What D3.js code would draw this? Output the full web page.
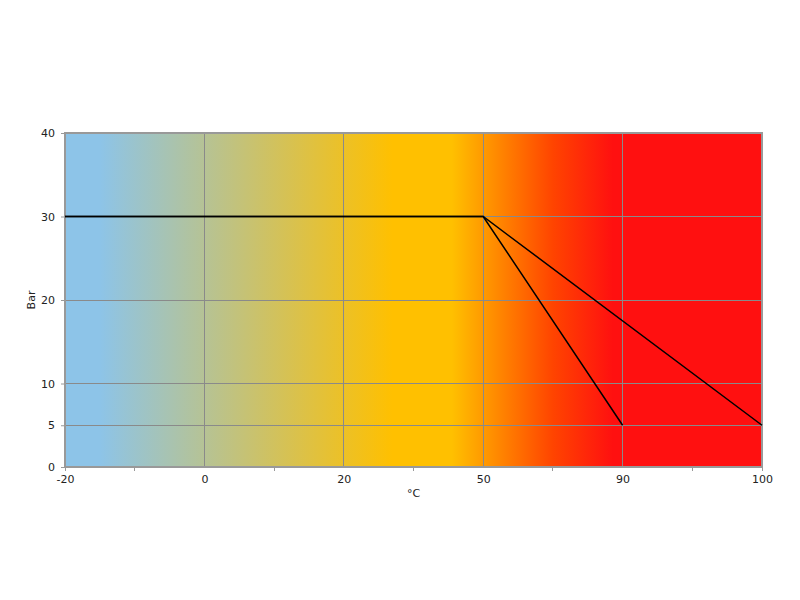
<!DOCTYPE html>
<html>
<head>
<meta charset="utf-8">
<script src="https://cdn.jsdelivr.net/npm/d3@7"></script>
<style>
body{margin:0;background:#fff;}
text{font-family:"DejaVu Sans",Verdana,sans-serif;font-size:11px;fill:#222;}
</style>
</head>
<body>
<svg id="chart" width="800" height="600"></svg>
<script>
const categories = ["-20","0","20","50","90","100"];
const seriesA = [30,30,30,30,5,null];
const seriesB = [30,30,30,30,null,5];
const yTicks = [0,5,10,20,30,40];
const xTitle = "°C";
const yTitle = "Bar";

const svg = d3.select("#chart");
const m = {l:65, r:762, t:133, b:467};
const x = d3.scalePoint().domain(categories).range([m.l, m.r]);
const y = d3.scaleLinear().domain([0,40]).range([m.b, m.t]);

const defs = svg.append("defs");
const grad = defs.append("linearGradient").attr("id","bg").attr("x1","0").attr("x2","1").attr("y1","0").attr("y2","0");
[[0,"#8DC4E8"],[0.05,"#8DC4E8"],[0.47,"#FFC000"],[0.555,"#FFC000"],[0.60,"#FF9A00"],[0.70,"#FF4400"],[0.786,"#FF1010"],[1,"#FF1010"]]
  .forEach(([o,c])=>grad.append("stop").attr("offset",o).attr("stop-color",c));

svg.append("rect").attr("x",m.l).attr("y",m.t).attr("width",m.r-m.l).attr("height",m.b-m.t).attr("fill","url(#bg)");

// gridlines
svg.append("g").selectAll("line").data(yTicks).join("line")
  .attr("x1",m.l).attr("x2",m.r).attr("y1",d=>y(d)).attr("y2",d=>y(d))
  .attr("stroke","#8a8a8a").attr("stroke-width",1).attr("shape-rendering","crispEdges");
svg.append("g").selectAll("line").data(categories).join("line")
  .attr("x1",d=>x(d)).attr("x2",d=>x(d)).attr("y1",m.t).attr("y2",m.b)
  .attr("stroke","#8a8a8a").attr("stroke-width",1).attr("shape-rendering","crispEdges");

// border
svg.append("rect").attr("x",m.l).attr("y",m.t).attr("width",m.r-m.l).attr("height",m.b-m.t)
  .attr("fill","none").attr("stroke","#999").attr("stroke-width",1.5).attr("shape-rendering","crispEdges");

// y axis
const yAxis = d3.axisLeft(y).tickValues(yTicks).tickSize(4).tickPadding(6);
const gy = svg.append("g").attr("transform",`translate(${m.l},0)`).call(yAxis);
gy.select(".domain").attr("stroke","#999");
gy.selectAll(".tick line").attr("stroke","#999");
gy.selectAll("text").style("font-size","11px").attr("fill","#222");

// x axis
const xAxis = d3.axisBottom(x).tickSize(0).tickPadding(8);
const gx = svg.append("g").attr("transform",`translate(0,${m.b})`).call(xAxis);
gx.select(".domain").attr("stroke","#999");
gx.selectAll("text").style("font-size","11px").attr("fill","#222");
// minor ticks between categories and at ends
const step = x.step();
const tickPos = d3.range(categories.length*2-1).map(i=>m.l + i*step/2).filter((p,i)=>i%2===1 || i===categories.length*2-2 || i===0);
svg.append("g").selectAll("line").data(tickPos).join("line")
  .attr("x1",d=>d).attr("x2",d=>d).attr("y1",m.b).attr("y2",m.b+4)
  .attr("stroke","#999").attr("shape-rendering","crispEdges");

// series
const line = d3.line().defined(d=>d.v!=null).x(d=>x(d.c)).y(d=>y(d.v));
[seriesA, seriesB].forEach(s=>{
  const pts = categories.map((c,i)=>({c, v:s[i]})).filter(d=>d.v!=null);
  svg.append("path").datum(pts).attr("d",line).attr("fill","none")
    .attr("stroke","#000").attr("stroke-width",1.5);
});

// titles
svg.append("text").attr("x",(m.l+m.r)/2).attr("y",497).attr("text-anchor","middle").text(xTitle);
svg.append("text").attr("transform",`translate(35,${(m.t+m.b)/2}) rotate(-90)`).attr("text-anchor","middle").text(yTitle);
</script>
</body>
</html>
